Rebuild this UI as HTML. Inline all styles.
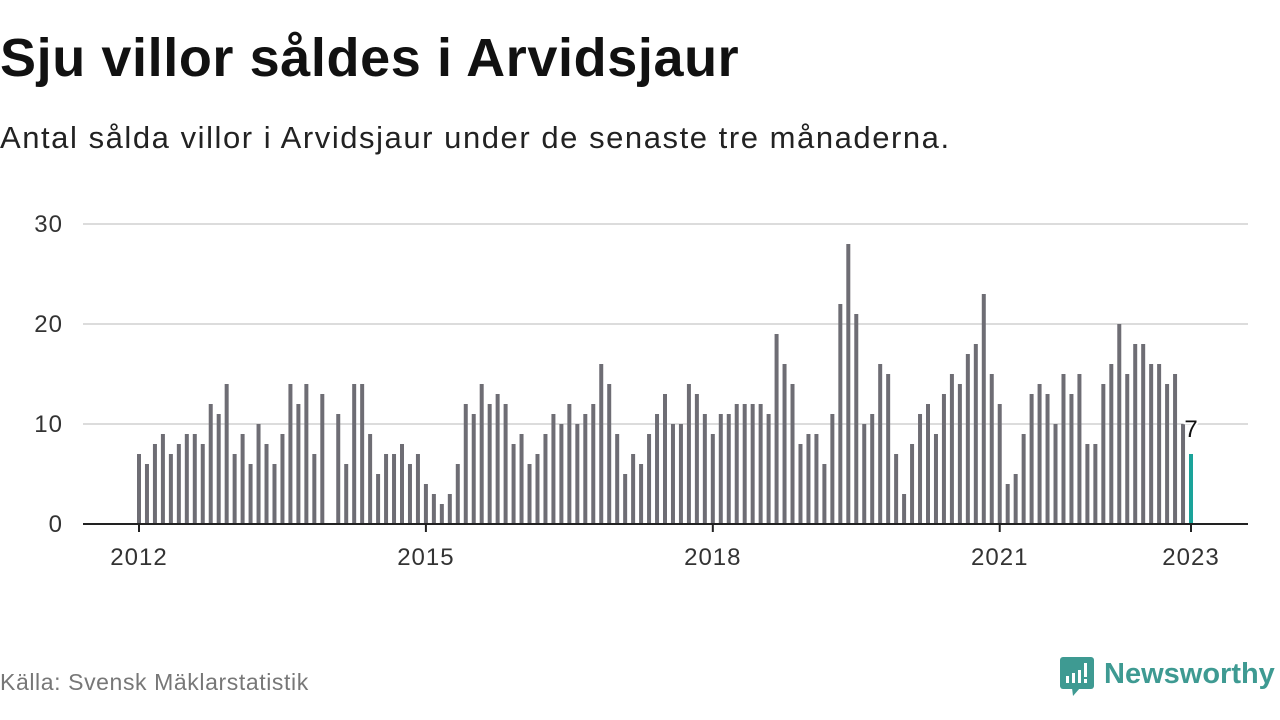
<!DOCTYPE html>
<html><head><meta charset="utf-8"><style>
body{margin:0;width:1280px;height:720px;background:#fff;font-family:"Liberation Sans","DejaVu Sans",sans-serif;overflow:hidden;position:relative}
#t{position:absolute;left:0;top:27px;font-size:54px;font-weight:bold;color:#111;margin:0;letter-spacing:0.6px}
#s{position:absolute;left:0;top:120px;font-size:31px;color:#222;letter-spacing:1.55px}
#src{position:absolute;left:0;top:669px;font-size:23px;color:#777;letter-spacing:0.6px}
#logo{position:absolute;left:1058px;top:653px}
</style></head><body>
<h1 id="t">Sju villor såldes i Arvidsjaur</h1>
<div id="s">Antal sålda villor i Arvidsjaur under de senaste tre månaderna.</div>
<svg id="chart" width="1280" height="720" style="position:absolute;left:0;top:0"></svg>
<div id="src">Källa: Svensk Mäklarstatistik</div>
<div id="logo">
<svg width="222" height="46"><rect x="2" y="4" width="34" height="32" rx="3" fill="#3e9a92"/><polygon points="14,35 22,35 15,43" fill="#3e9a92"/>
<rect x="8" y="23" width="3" height="7" fill="#fff"/><rect x="14" y="20" width="3" height="10" fill="#fff"/><rect x="20" y="17" width="3" height="13" fill="#fff"/><rect x="26" y="10" width="3" height="14" fill="#fff"/><rect x="26" y="26" width="3" height="4" fill="#fff"/>
<text x="46" y="30" font-size="29" font-weight="bold" fill="#3e9a92" font-family="Liberation Sans,sans-serif">Newsworthy</text></svg></div>
<script>
const startYear = 2012;
const values = [7,6,8,9,7,8,9,9,8,12,11,14,
7,9,6,10,8,6,9,14,12,14,7,13,
0,11,6,14,14,9,5,7,7,8,6,7,
4,3,2,3,6,12,11,14,12,13,12,8,
9,6,7,9,11,10,12,10,11,12,16,14,
9,5,7,6,9,11,13,10,10,14,13,11,
9,11,11,12,12,12,12,11,19,16,14,8,
9,9,6,11,22,28,21,10,11,16,15,7,
3,8,11,12,9,13,15,14,17,18,23,15,
12,4,5,9,13,14,13,10,15,13,15,8,
8,14,16,20,15,18,18,16,16,14,15,10,
7];
const yTicks = [0,10,20,30];
const xTickLabels = ["2012","2015","2018","2021","2023"];
const NS="http://www.w3.org/2000/svg";
const svg=document.getElementById('chart');
const x0=139,x1=1191,y0=524,y30=224;
const n=values.length;
const xs=i=>x0+(x1-x0)*i/(n-1);
const ys=v=>y0-(y0-y30)*v/30;
function el(t,a){const e=document.createElementNS(NS,t);for(const k in a)e.setAttribute(k,a[k]);svg.appendChild(e);return e;}
yTicks.forEach(v=>{
  if(v>0){const g=el('line',{x1:83,x2:1248,y1:ys(v),y2:ys(v),stroke:'#dcdcdc','stroke-width':2});
  
  }
  const t=el('text',{x:63,y:ys(v)+8,'text-anchor':'end','font-size':24,fill:'#333','letter-spacing':1});
  t.textContent=v;
  
  
});
values.forEach((v,i)=>{
  if(v<=0)return;
  const last=i===n-1;
  const r=el('rect',{x:xs(i)-2,y:ys(v),width:4,height:y0-ys(v),fill:last?'#1aa39a':'#6e6d74'});
  
  
});
const lv=el('text',{x:xs(n-1),y:ys(values[n-1])-17,'text-anchor':'middle','font-size':24,fill:'#111',stroke:'#fff','stroke-width':4,'paint-order':'stroke'});
lv.textContent=values[n-1];


const ax=el('line',{x1:83,x2:1248,y1:y0,y2:y0,stroke:'#222','stroke-width':2});


xTickLabels.forEach(l=>{
  const i=(parseInt(l)-startYear)*12;
  const tk=el('line',{x1:xs(i),x2:xs(i),y1:y0,y2:y0+8,stroke:'#222','stroke-width':2});
  
  
  const t=el('text',{x:xs(i),y:565,'text-anchor':'middle','font-size':24,fill:'#333','letter-spacing':1});
  t.textContent=l;
  
  
});
</script>
</body></html>
